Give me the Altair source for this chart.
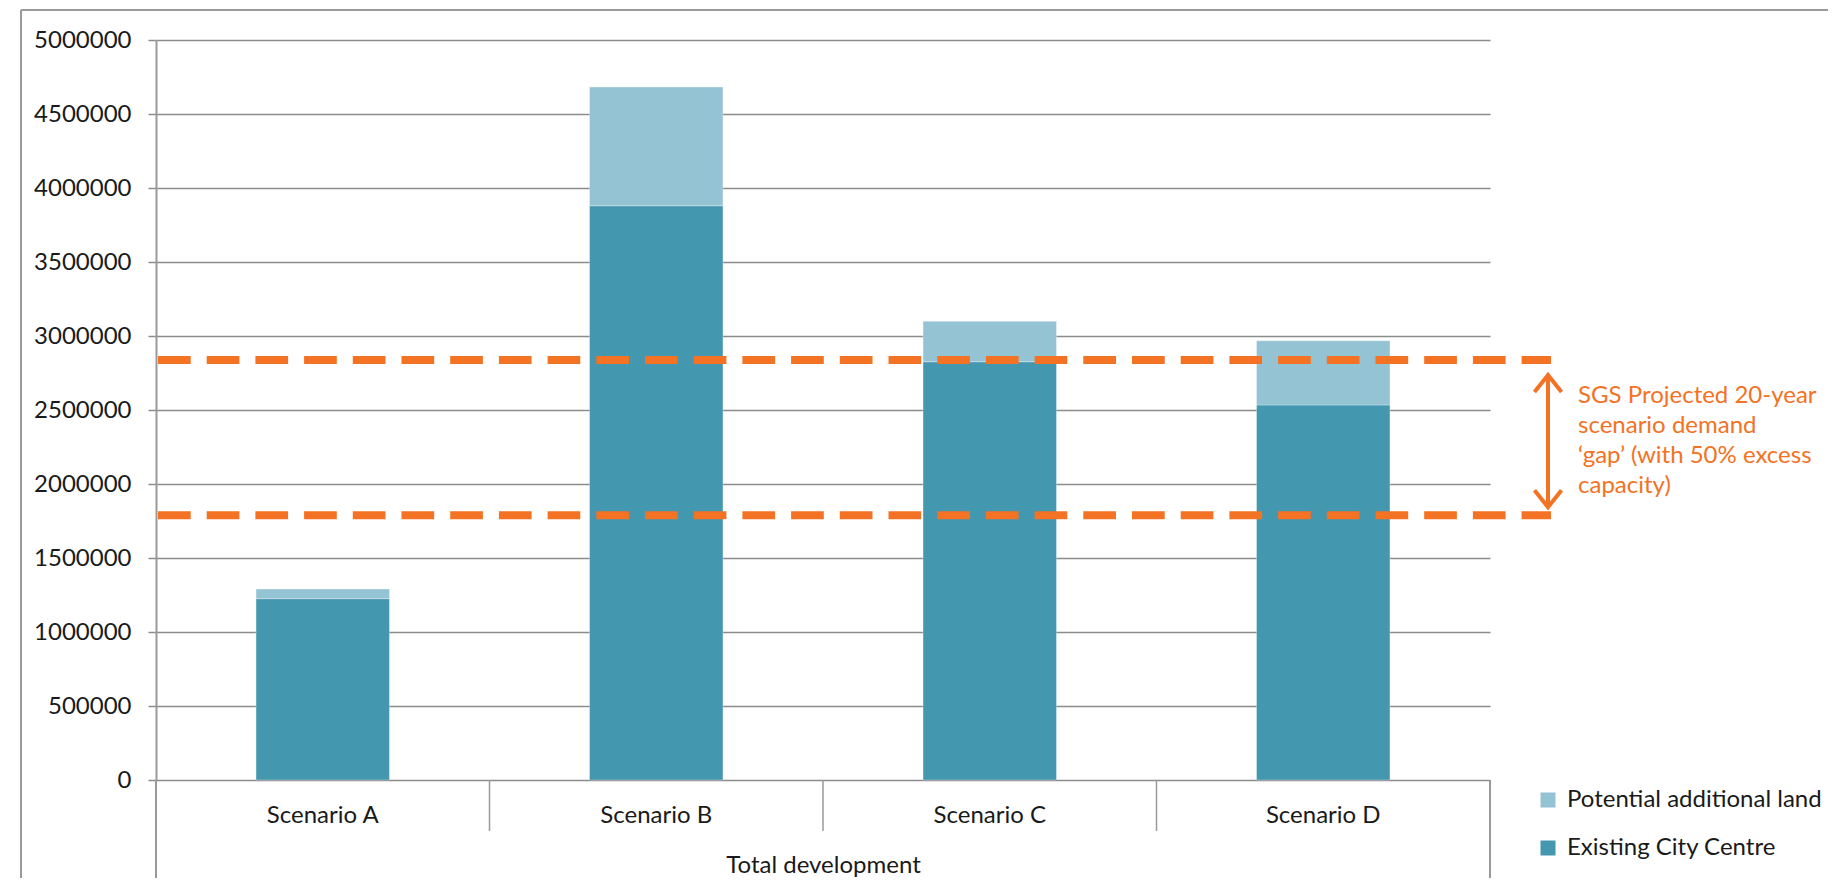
import altair as alt
import pandas as pd

# ---------------- data ----------------
categories = ["Scenario A", "Scenario B", "Scenario C", "Scenario D"]
existing_city_centre = [1225000, 3880000, 2826000, 2534000]
potential_additional_land = [65000, 802000, 273000, 434000]
series_names = ["Potential additional land", "Existing City Centre"]
series_colors = ["#94C3D4", "#4397AF"]
demand_gap_high = [2838000]
demand_gap_low = [1789000]
y_ticks = [0, 500000, 1000000, 1500000, 2000000, 2500000, 3000000, 3500000, 4000000, 4500000, 5000000]
x_axis_title = "Total development"
annotation_lines = ["SGS Projected 20-year", "scenario demand", "\u2018gap\u2019 (with 50% excess", "capacity)"]

rows = []
for c, e, p in zip(categories, existing_city_centre, potential_additional_land):
    rows.append({"cat": c, "series": series_names[1], "value": e, "order": 0})
    rows.append({"cat": c, "series": series_names[0], "value": p, "order": 1})
bars_df = pd.DataFrame(rows)
gap_df = pd.DataFrame({"hi": demand_gap_high, "lo": demand_gap_low})
gap_long = pd.DataFrame({"value": demand_gap_high + demand_gap_low})
n = len(categories)
outer_div = pd.DataFrame({"pos": [0, n]})
inner_div = pd.DataFrame({"pos": list(range(1, n))})
one = pd.DataFrame({"a": [0]})

# ---------------- style ----------------
FONT = "Lato"
TXT = "#1a1a1a"
GRID = "#8c8c8c"
LINE = "#9a9a9a"
ORANGE = "#F37224"
W, H = 1334, 740

yscale = alt.Scale(domain=[0, 5000000], nice=False)

bars = alt.Chart(bars_df).mark_bar(stroke="white", strokeWidth=0.6, strokeOpacity=0.5).encode(
    x=alt.X("cat:N", sort=categories,
            scale=alt.Scale(paddingInner=0.6, paddingOuter=0.3),
            axis=alt.Axis(title=x_axis_title, ticks=False, tickSize=0, domain=False,
                          labelAngle=0, labelBaseline="middle", labelPadding=35,
                          titleY=85, titleBaseline="middle", titleFontWeight="normal")),
    y=alt.Y("value:Q", stack="zero", scale=yscale,
            axis=alt.Axis(values=y_ticks, format="d", title=None, grid=True,
                          gridColor=GRID, gridWidth=1.5, tickSize=8, tickColor=GRID,
                          tickWidth=1.5, domainColor=LINE, domainWidth=2,
                          labelPadding=17, labelBaseline="middle")),
    color=alt.Color("series:N", scale=alt.Scale(domain=series_names, range=series_colors),
                    legend=alt.Legend(title=None, orient="none", legendX=1380, legendY=748,
                                      symbolType="square", symbolSize=225, symbolStrokeWidth=0,
                                      labelOffset=7, rowPadding=24, padding=0, labelLimit=0)),
    order=alt.Order("order:Q"),
)

dashes = alt.Chart(gap_long).mark_rule(color=ORANGE, strokeWidth=8, strokeDash=[32.7, 16],
                                       strokeCap="butt").encode(
    y=alt.Y("value:Q", title=None),
    x=alt.value(2), x2=alt.value(1395),
)

shaft = alt.Chart(gap_df).mark_rule(color=ORANGE, strokeWidth=4, yOffset=15, y2Offset=-8).encode(
    y=alt.Y("hi:Q", title=None), y2="lo:Q", x=alt.value(1392),
)
head_up = alt.Chart(gap_df).mark_point(shape="M-1,1.26L0,0L1,1.26", filled=False, size=729,
                                       color=ORANGE, strokeWidth=4, yOffset=15, opacity=1).encode(
    y=alt.Y("hi:Q", title=None), x=alt.value(1392),
)
head_down = alt.Chart(gap_df).mark_point(shape="M-1,-1.26L0,0L1,-1.26", filled=False, size=729,
                                         color=ORANGE, strokeWidth=4, yOffset=-8, opacity=1).encode(
    y=alt.Y("lo:Q", title=None), x=alt.value(1392),
)
note = alt.Chart(gap_df).mark_text(align="left", baseline="alphabetic", dy=43, lineHeight=30,
                                   font=FONT, fontSize=24, color=ORANGE).encode(
    y=alt.Y("hi:Q", title=None), x=alt.value(1422), text=alt.value(annotation_lines),
)

divq = alt.Scale(domain=[0, n], nice=False, zero=False)
outer_lines = alt.Chart(outer_div).mark_rule(color=LINE, strokeWidth=2).encode(
    x=alt.X("pos:Q", scale=divq, axis=None), y=alt.value(H), y2=alt.value(H + 100),
)
inner_lines = alt.Chart(inner_div).mark_rule(color=LINE, strokeWidth=1.5).encode(
    x=alt.X("pos:Q", scale=divq, axis=None), y=alt.value(H), y2=alt.value(H + 51),
)

border_top = alt.Chart(one).mark_rule(color=LINE, strokeWidth=2).encode(
    x=alt.value(-135), x2=alt.value(1700), y=alt.value(-30))
border_left = alt.Chart(one).mark_rule(color=LINE, strokeWidth=2).encode(
    x=alt.value(-135), y=alt.value(-30), y2=alt.value(H + 110))

chart = alt.layer(
    border_top, border_left, bars, outer_lines, inner_lines, dashes, shaft, head_up, head_down, note
).resolve_scale(x="independent").properties(
    width=W, height=H,
    padding={"left": 148, "top": 32, "right": 338, "bottom": 98},
    autosize=alt.AutoSizeParams(type="none"),
).configure_view(stroke=None).configure_axis(
    labelFont=FONT, titleFont=FONT, labelColor=TXT, titleColor=TXT,
    labelFontSize=24, titleFontSize=24,
).configure_legend(labelFont=FONT, labelFontSize=24, labelColor=TXT, labelLimit=0)

chart.save("out.html", embed_options={"renderer": "svg", "actions": False})
